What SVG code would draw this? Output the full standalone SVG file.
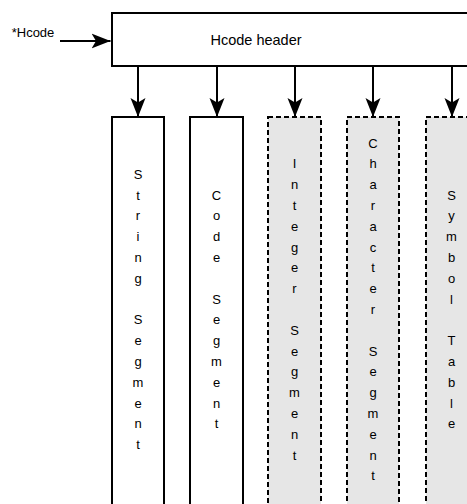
<svg xmlns="http://www.w3.org/2000/svg" width="467" height="504" viewBox="0 0 467 504">
  <defs>
    <marker id="arrow" markerUnits="userSpaceOnUse" markerWidth="20" markerHeight="18" viewBox="0 -9 20 18" refX="19" refY="0" orient="auto">
      <path d="M0,-7.5 L19,0 L0,7.5 L4.5,0 Z" fill="#000"/>
    </marker>
  </defs>
  <style>
    .box { fill: #fff; stroke: #000; stroke-width: 2; }
    .seg { fill: #fff; stroke: #000; stroke-width: 2; }
    .opt { fill: #e6e6e6; stroke: #000; stroke-width: 2; stroke-dasharray: 5 3; }
    .lbl { font-family: "Liberation Sans", Arial, Helvetica, sans-serif; font-size: 13px; fill: #000; text-anchor: middle; }
    .hdr { font-family: "Liberation Sans", Arial, Helvetica, sans-serif; font-size: 14.5px; fill: #000; text-anchor: middle; }
    .in { font-family: "Liberation Sans", Arial, Helvetica, sans-serif; font-size: 13px; fill: #000; }
    .conn { stroke: #000; stroke-width: 2; fill: none; marker-end: url(#arrow); }
  </style>
  <rect width="467" height="504" fill="#fff"/>

  <g id="header">
    <rect class="box" x="112" y="13" width="370" height="53"/>
    <text class="hdr" x="256" y="45">Hcode header</text>
  </g>

  <g id="hcode-pointer">
    <text class="in" x="11.7" y="37">*Hcode</text>
  </g>

  <g id="string-segment">
    <rect class="seg" x="112" y="117" width="52" height="400"/>
    <text class="lbl">
      <tspan x="138" y="178.8">S</tspan><tspan x="138" y="199.6">t</tspan><tspan x="138" y="220.4">r</tspan><tspan x="138" y="241.2">i</tspan><tspan x="138" y="262">n</tspan><tspan x="138" y="282.8">g</tspan><tspan x="138" y="324.4">S</tspan><tspan x="138" y="345.2">e</tspan><tspan x="138" y="366">g</tspan><tspan x="138" y="386.8">m</tspan><tspan x="138" y="407.6">e</tspan><tspan x="138" y="428.4">n</tspan><tspan x="138" y="449.2">t</tspan>
    </text>
  </g>

  <g id="code-segment">
    <rect class="seg" x="190" y="117" width="53" height="400"/>
    <text class="lbl">
      <tspan x="216.5" y="199.6">C</tspan><tspan x="216.5" y="220.4">o</tspan><tspan x="216.5" y="241.2">d</tspan><tspan x="216.5" y="262">e</tspan><tspan x="216.5" y="303.6">S</tspan><tspan x="216.5" y="324.4">e</tspan><tspan x="216.5" y="345.2">g</tspan><tspan x="216.5" y="366">m</tspan><tspan x="216.5" y="386.8">e</tspan><tspan x="216.5" y="407.6">n</tspan><tspan x="216.5" y="428.4">t</tspan>
    </text>
  </g>

  <g id="integer-segment">
    <rect class="opt" x="268" y="117" width="53" height="400"/>
    <text class="lbl">
      <tspan x="294.5" y="168.4">I</tspan><tspan x="294.5" y="189.2">n</tspan><tspan x="294.5" y="210">t</tspan><tspan x="294.5" y="230.8">e</tspan><tspan x="294.5" y="251.6">g</tspan><tspan x="294.5" y="272.4">e</tspan><tspan x="294.5" y="293.2">r</tspan><tspan x="294.5" y="334.8">S</tspan><tspan x="294.5" y="355.6">e</tspan><tspan x="294.5" y="376.4">g</tspan><tspan x="294.5" y="397.2">m</tspan><tspan x="294.5" y="418">e</tspan><tspan x="294.5" y="438.8">n</tspan><tspan x="294.5" y="459.6">t</tspan>
    </text>
  </g>

  <g id="character-segment">
    <rect class="opt" x="347" y="117" width="52" height="400"/>
    <text class="lbl">
      <tspan x="373" y="147.6">C</tspan><tspan x="373" y="168.4">h</tspan><tspan x="373" y="189.2">a</tspan><tspan x="373" y="210">r</tspan><tspan x="373" y="230.8">a</tspan><tspan x="373" y="251.6">c</tspan><tspan x="373" y="272.4">t</tspan><tspan x="373" y="293.2">e</tspan><tspan x="373" y="314">r</tspan><tspan x="373" y="355.6">S</tspan><tspan x="373" y="376.4">e</tspan><tspan x="373" y="397.2">g</tspan><tspan x="373" y="418">m</tspan><tspan x="373" y="438.8">e</tspan><tspan x="373" y="459.6">n</tspan><tspan x="373" y="480.4">t</tspan>
    </text>
  </g>

  <g id="symbol-table">
    <rect class="opt" x="426" y="117" width="52" height="400"/>
    <text class="lbl">
      <tspan x="451.5" y="199.6">S</tspan><tspan x="451.5" y="220.4">y</tspan><tspan x="451.5" y="241.2">m</tspan><tspan x="451.5" y="262">b</tspan><tspan x="451.5" y="282.8">o</tspan><tspan x="451.5" y="303.6">l</tspan><tspan x="451.5" y="345.2">T</tspan><tspan x="451.5" y="366">a</tspan><tspan x="451.5" y="386.8">b</tspan><tspan x="451.5" y="407.6">l</tspan><tspan x="451.5" y="428.4">e</tspan>
    </text>
  </g>

  <g id="connectors">
    <line class="conn" x1="60" y1="41" x2="110.5" y2="41"/>
    <line class="conn" x1="138" y1="66" x2="138" y2="117"/>
    <line class="conn" x1="217" y1="66" x2="217" y2="117"/>
    <line class="conn" x1="295" y1="66" x2="295" y2="117"/>
    <line class="conn" x1="373" y1="66" x2="373" y2="117"/>
    <line class="conn" x1="452" y1="66" x2="452" y2="117"/>
  </g>
</svg>
